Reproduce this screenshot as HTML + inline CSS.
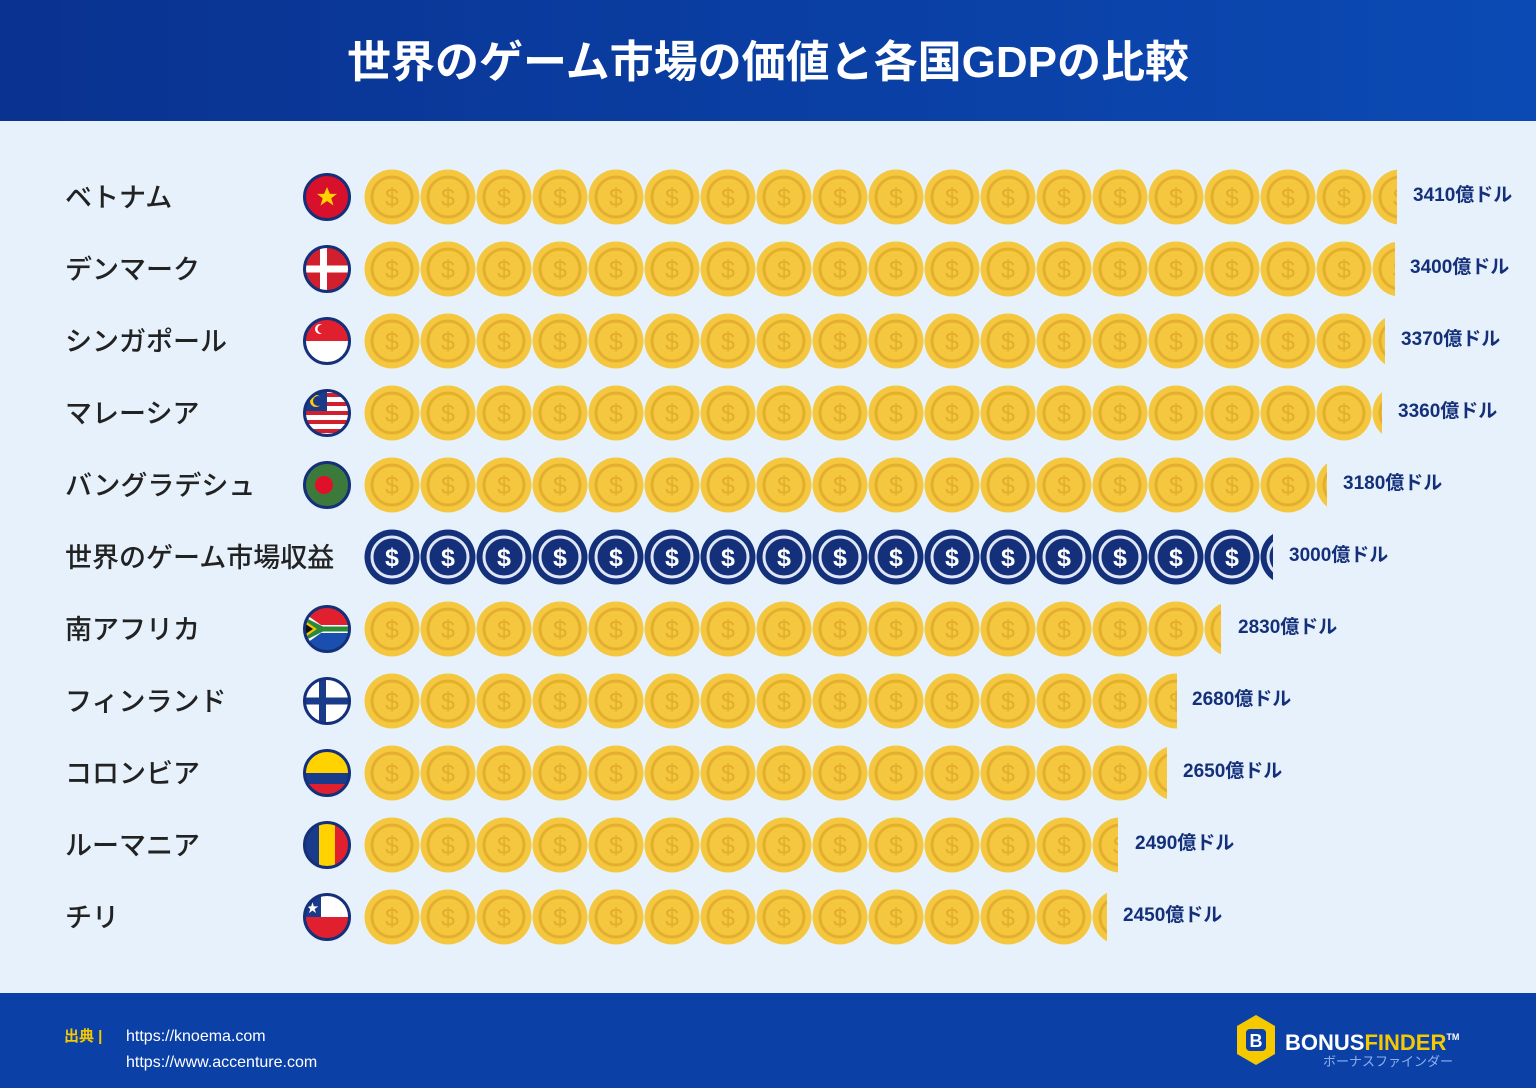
<!DOCTYPE html>
<html><head><meta charset="utf-8"><style>
body{margin:0;width:1536px;height:1088px;overflow:hidden;background:#e6f1fb}
svg{display:block}
</style></head><body>
<svg width="1536" height="1088" viewBox="0 0 1536 1088" font-family="'Liberation Sans','Noto Sans CJK JP',sans-serif">
<defs>
<linearGradient id="hg" x1="0" x2="1"><stop offset="0" stop-color="#0a3290"/><stop offset="1" stop-color="#0b4ab4"/></linearGradient>
<pattern id="pg" patternUnits="userSpaceOnUse" x="364" y="169" width="56" height="72"><circle cx="28" cy="28" r="27.5" fill="#f4c73e"/><circle cx="28" cy="28" r="20" fill="none" stroke="#e2b02e" stroke-width="3"/><text x="28" y="37" text-anchor="middle" font-size="25" fill="#e2ae2c">$</text></pattern>
<pattern id="pn" patternUnits="userSpaceOnUse" x="364" y="169" width="56" height="72"><circle cx="28" cy="28" r="27.5" fill="#14307a"/><circle cx="28" cy="28" r="20" fill="none" stroke="#dfe6f5" stroke-width="3"/><text x="28" y="37" text-anchor="middle" font-size="25" font-weight="bold" fill="#fff">$</text></pattern>
<clipPath id="fc"><circle cx="0" cy="0" r="22"/></clipPath>
</defs>
<rect width="1536" height="121" fill="url(#hg)"/>
<text x="768" y="77" text-anchor="middle" font-size="44" font-weight="bold" fill="#fff">世界のゲーム市場の価値と各国GDPの比較</text>

<g font-size="27" fill="#222" font-weight="500">
<text x="65" y="207">ベトナム</text>
<text x="65" y="279">デンマーク</text>
<text x="65" y="351">シンガポール</text>
<text x="65" y="423">マレーシア</text>
<text x="65" y="495">バングラデシュ</text>
<text x="65" y="567">世界のゲーム市場収益</text>
<text x="65" y="639">南アフリカ</text>
<text x="65" y="711">フィンランド</text>
<text x="65" y="783">コロンビア</text>
<text x="65" y="855">ルーマニア</text>
<text x="65" y="927">チリ</text>
</g>

<rect x="364" y="169" width="1033" height="56" fill="url(#pg)"/>
<rect x="364" y="241" width="1031" height="56" fill="url(#pg)"/>
<rect x="364" y="313" width="1021" height="56" fill="url(#pg)"/>
<rect x="364" y="385" width="1018" height="56" fill="url(#pg)"/>
<rect x="364" y="457" width="963" height="56" fill="url(#pg)"/>
<rect x="364" y="529" width="909" height="56" fill="url(#pn)"/>
<rect x="364" y="601" width="857" height="56" fill="url(#pg)"/>
<rect x="364" y="673" width="813" height="56" fill="url(#pg)"/>
<rect x="364" y="745" width="803" height="56" fill="url(#pg)"/>
<rect x="364" y="817" width="754" height="56" fill="url(#pg)"/>
<rect x="364" y="889" width="743" height="56" fill="url(#pg)"/>

<g font-size="19" font-weight="bold" fill="#14307a">
<text x="1413" y="201">3410億ドル</text>
<text x="1410" y="273">3400億ドル</text>
<text x="1401" y="345">3370億ドル</text>
<text x="1398" y="417">3360億ドル</text>
<text x="1343" y="489">3180億ドル</text>
<text x="1289" y="561">3000億ドル</text>
<text x="1238" y="633">2830億ドル</text>
<text x="1192" y="705">2680億ドル</text>
<text x="1183" y="777">2650億ドル</text>
<text x="1135" y="849">2490億ドル</text>
<text x="1123" y="921">2450億ドル</text>
</g>

<g transform="translate(327,197)"><g clip-path="url(#fc)"><rect x="-23" y="-23" width="46" height="46" fill="#d8102c"/><polygon points="0,-10 2.9,-3.1 10,-3.1 4.3,1.2 6.5,8.5 0,4 -6.5,8.5 -4.3,1.2 -10,-3.1 -2.9,-3.1" fill="#ffd200"/></g><circle r="22.5" fill="none" stroke="#14307a" stroke-width="3"/></g>
<g transform="translate(327,269)"><g clip-path="url(#fc)"><rect x="-23" y="-23" width="46" height="46" fill="#d0202e"/><rect x="-23" y="-3.5" width="46" height="7" fill="#fff"/><rect x="-7" y="-23" width="7" height="46" fill="#fff"/></g><circle r="22.5" fill="none" stroke="#14307a" stroke-width="3"/></g>
<g transform="translate(327,341)"><g clip-path="url(#fc)"><rect x="-23" y="-23" width="46" height="23" fill="#e0202e"/><rect x="-23" y="0" width="46" height="23" fill="#fff"/><circle cx="-7" cy="-12" r="5" fill="#fff"/><circle cx="-5" cy="-12" r="4.5" fill="#e0202e"/></g><circle r="22.5" fill="none" stroke="#14307a" stroke-width="3"/></g>
<g transform="translate(327,413)"><g clip-path="url(#fc)"><rect x="-23" y="-23" width="46" height="46" fill="#fff"/><rect x="-23" y="-20" width="46" height="4" fill="#d0202e"/><rect x="-23" y="-11" width="46" height="4" fill="#d0202e"/><rect x="-23" y="-2" width="46" height="4" fill="#d0202e"/><rect x="-23" y="7" width="46" height="4" fill="#d0202e"/><rect x="-23" y="16" width="46" height="4" fill="#d0202e"/><rect x="-23" y="-23" width="23" height="21" fill="#1a3a8a"/><circle cx="-11" cy="-12" r="6" fill="#ffcc00"/><circle cx="-9" cy="-12" r="5" fill="#1a3a8a"/></g><circle r="22.5" fill="none" stroke="#14307a" stroke-width="3"/></g>
<g transform="translate(327,485)"><g clip-path="url(#fc)"><rect x="-23" y="-23" width="46" height="46" fill="#3c7a3c"/><circle cx="-3" cy="0" r="9" fill="#e0102a"/></g><circle r="22.5" fill="none" stroke="#14307a" stroke-width="3"/></g>
<g transform="translate(327,629)"><g clip-path="url(#fc)"><rect x="-23" y="-23" width="46" height="23" fill="#e0202e"/><rect x="-23" y="0" width="46" height="23" fill="#1a4fb0"/><polygon points="-23,-16 -6,-4 23,-4 23,4 -6,4 -23,16" fill="#fff"/><polygon points="-23,-12 -4,-2.5 23,-2.5 23,2.5 -4,2.5 -23,12" fill="#2a8a3a"/><polygon points="-23,-9 -10,0 -23,9" fill="#f5c000"/><polygon points="-23,-6 -14,0 -23,6" fill="#111"/></g><circle r="22.5" fill="none" stroke="#14307a" stroke-width="3"/></g>
<g transform="translate(327,701)"><g clip-path="url(#fc)"><rect x="-23" y="-23" width="46" height="46" fill="#fff"/><rect x="-23" y="-3.5" width="46" height="7" fill="#1a3a8a"/><rect x="-8" y="-23" width="7" height="46" fill="#1a3a8a"/></g><circle r="22.5" fill="none" stroke="#14307a" stroke-width="3"/></g>
<g transform="translate(327,773)"><g clip-path="url(#fc)"><rect x="-23" y="-23" width="46" height="23" fill="#ffd200"/><rect x="-23" y="0" width="46" height="11" fill="#1a3a8a"/><rect x="-23" y="11" width="46" height="12" fill="#e0202e"/></g><circle r="22.5" fill="none" stroke="#14307a" stroke-width="3"/></g>
<g transform="translate(327,845)"><g clip-path="url(#fc)"><rect x="-23" y="-23" width="15" height="46" fill="#1a3a8a"/><rect x="-8" y="-23" width="16" height="46" fill="#ffd200"/><rect x="8" y="-23" width="15" height="46" fill="#e0202e"/></g><circle r="22.5" fill="none" stroke="#14307a" stroke-width="3"/></g>
<g transform="translate(327,917)"><g clip-path="url(#fc)"><rect x="-23" y="-23" width="46" height="23" fill="#fff"/><rect x="-23" y="0" width="46" height="23" fill="#e0202e"/><rect x="-23" y="-23" width="17" height="23" fill="#1a3a8a"/><text x="-14.5" y="-5" font-size="12" text-anchor="middle" fill="#fff">★</text></g><circle r="22.5" fill="none" stroke="#14307a" stroke-width="3"/></g>

<rect x="0" y="993" width="1536" height="95" fill="#0b40a6"/>
<text x="64" y="1041" font-size="15" font-weight="bold" fill="#f5c800">出典 |</text>
<text x="126" y="1041" font-size="16" fill="#fff">https://knoema.com</text>
<text x="126" y="1067" font-size="16" fill="#fff">https://www.accenture.com</text>
<polygon points="1256,1015 1275,1026 1275,1054 1256,1065 1237,1054 1237,1026" fill="#f5c800"/>
<rect x="1246" y="1029" width="20" height="22" rx="4" fill="#0b40a6"/>
<text x="1256" y="1047" text-anchor="middle" font-size="18" font-weight="bold" fill="#fff">B</text>
<text x="1285" y="1050" font-size="22" font-weight="bold" fill="#fff">BONUS<tspan fill="#f5c800">FINDER</tspan><tspan font-size="9" dy="-10" fill="#fff">TM</tspan></text>
<text x="1323" y="1066" font-size="13" fill="#8fb0f0">ボーナスファインダー</text>
</svg>
</body></html>
